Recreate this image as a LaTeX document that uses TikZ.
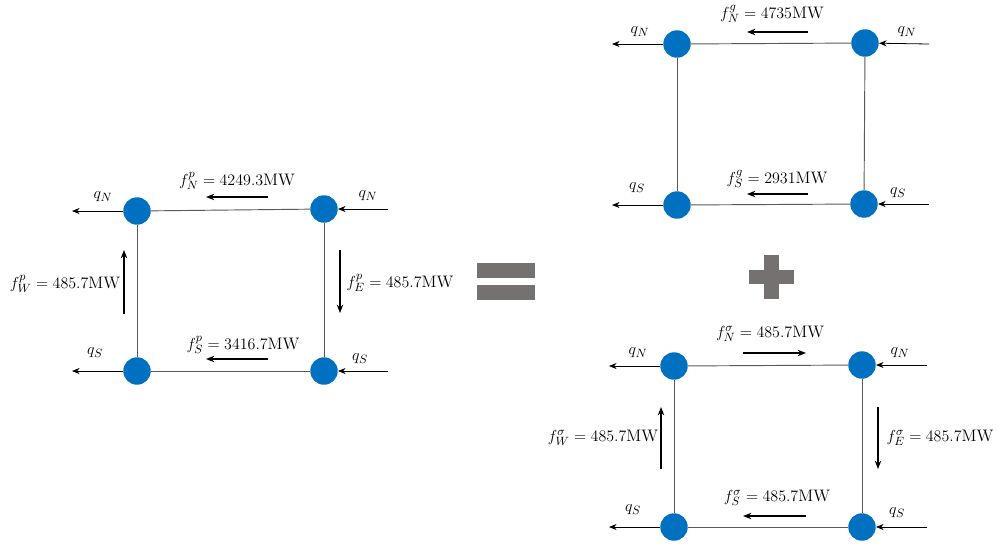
\documentclass[tikz,border=0pt]{standalone}
\usepackage{tikz}
\usetikzlibrary{arrows.meta,positioning}
\definecolor{busBlue}{HTML}{0070C0}
\definecolor{signGray}{HTML}{767171}
\definecolor{tieGray}{HTML}{595959}
\tikzset{
  bus/.style={circle, fill=busBlue, draw=none, minimum size=20.6pt, inner sep=0pt},
  tie/.style={draw=tieGray, line width=0.7pt},
  qarr/.style={-{Stealth[length=2mm, width=1.6mm]}, line width=0.6pt},
  farr/.style={-{Stealth[length=2.2mm, width=1.7mm]}, line width=0.9pt},
  flab/.style={font=\fontsize{12.5}{15}\selectfont, inner sep=1pt},
  signbar/.style={fill=signGray, draw=none},
}

\begin{document}
\begin{tikzpicture}[x=0.75pt, y=-0.75pt]
    \useasboundingbox (0,0) rectangle (998,544);
    % left: total flows
    \node[bus] (pNW) at (137,211) {};
    \node[bus] (pNE) at (324,209) {};
    \node[bus] (pSW) at (137,371) {};
    \node[bus] (pSE) at (324,371) {};
    \draw[tie] (pNW) -- (pNE);
    \draw[tie] (pNE) -- (pSE);
    \draw[tie] (pSE) -- (pSW);
    \draw[tie] (pSW) -- (pNW);
    \coordinate (pqNW) at (72,211);
    \coordinate (pqNE) at (388,209);
    \coordinate (pqSW) at (72,371);
    \coordinate (pqSE) at (388,371);
    \draw[qarr] (pNW) -- (pqNW);
    \draw[qarr] (pqNE) -- (pNE);
    \draw[qarr] (pSW) -- (pqSW);
    \draw[qarr] (pqSE) -- (pSE);
    \node[flab] (pqNWl) at (103,197) {$q_N$};
    \node[flab] (pqNEl) at (368,196) {$q_N$};
    \node[flab] (pqSWl) at (95,353) {$q_S$};
    \node[flab] (pqSEl) at (360,359) {$q_S$};
    \coordinate (pfN1) at (268,197);  \coordinate (pfN2) at (206,197);
    \coordinate (pfS1) at (268,359);  \coordinate (pfS2) at (206,359);
    \coordinate (pfW1) at (124,314);  \coordinate (pfW2) at (124,250);
    \coordinate (pfE1) at (340,250);  \coordinate (pfE2) at (340,313);
    \draw[farr] (pfN1) -- (pfN2);
    \draw[farr] (pfS1) -- (pfS2);
    \draw[farr] (pfW1) -- (pfW2);
    \draw[farr] (pfE1) -- (pfE2);
    \node[flab] (pfNl) at (237,181) {$f_N^p = 4249.3$MW};
    \node[flab] (pfSl) at (243,345) {$f_S^p = 3416.7$MW};
    \node[flab] (pfWl) at (65,284) {$f_W^p = 485.7$MW};
    \node[flab] (pfEl) at (400,283) {$f_E^p = 485.7$MW};
    % equals sign
    \fill[signbar] (477,263) rectangle (535,278);
    \fill[signbar] (477,285) rectangle (535,300);
    % plus sign
    \fill[signbar] (749,270) rectangle (794,284);
    \fill[signbar] (764,255) rectangle (779,299);
    % top right: g flows
    \node[bus] (gNW) at (677,44) {};
    \node[bus] (gNE) at (865,43) {};
    \node[bus] (gSW) at (677,205) {};
    \node[bus] (gSE) at (864,204) {};
    \draw[tie] (gNW) -- (gNE);
    \draw[tie] (gNE) -- (gSE);
    \draw[tie] (gSE) -- (gSW);
    \draw[tie] (gSW) -- (gNW);
    \coordinate (gqNW) at (612,44);
    \coordinate (gqNE) at (929,44);
    \coordinate (gqSW) at (612,205);
    \coordinate (gqSE) at (929,204);
    \draw[qarr] (gNW) -- (gqNW);
    \draw[qarr] (gqNE) -- (gNE);
    \draw[qarr] (gSW) -- (gqSW);
    \draw[qarr] (gqSE) -- (gSE);
    \node[flab] (gqNWl) at (640,32) {$q_N$};
    \node[flab] (gqNEl) at (907,32) {$q_N$};
    \node[flab] (gqSWl) at (637,188) {$q_S$};
    \node[flab] (gqSEl) at (898,193) {$q_S$};
    \coordinate (gfN1) at (808,32);   \coordinate (gfN2) at (747,32);
    \coordinate (gfS1) at (808,194);  \coordinate (gfS2) at (747,194);
    \draw[farr] (gfN1) -- (gfN2);
    \draw[farr] (gfS1) -- (gfS2);
    \node[flab] (gfNl) at (772,14) {$f_N^g = 4735$MW};
    \node[flab] (gfSl) at (777,179) {$f_S^g = 2931$MW};
    % bottom right: sigma flows
    \node[bus] (sNW) at (674,366) {};
    \node[bus] (sNE) at (862,365) {};
    \node[bus] (sSW) at (674,527) {};
    \node[bus] (sSE) at (862,527) {};
    \draw[tie] (sNW) -- (sNE);
    \draw[tie] (sNE) -- (sSE);
    \draw[tie] (sSE) -- (sSW);
    \draw[tie] (sSW) -- (sNW);
    \coordinate (sqNW) at (609,366);
    \coordinate (sqNE) at (927,365);
    \coordinate (sqSW) at (609,527);
    \coordinate (sqSE) at (927,527);
    \draw[qarr] (sNW) -- (sqNW);
    \draw[qarr] (sqNE) -- (sNE);
    \draw[qarr] (sSW) -- (sqSW);
    \draw[qarr] (sqSE) -- (sSE);
    \node[flab] (sqNWl) at (638,353) {$q_N$};
    \node[flab] (sqNEl) at (900,353) {$q_N$};
    \node[flab] (sqSWl) at (633,510) {$q_S$};
    \node[flab] (sqSEl) at (897,513) {$q_S$};
    \coordinate (sfN1) at (743,353);  \coordinate (sfN2) at (806,353);
    \coordinate (sfS1) at (806,516);  \coordinate (sfS2) at (743,516);
    \coordinate (sfW1) at (661,469);  \coordinate (sfW2) at (661,407);
    \coordinate (sfE1) at (878,407);  \coordinate (sfE2) at (878,469);
    \draw[farr] (sfN1) -- (sfN2);
    \draw[farr] (sfS1) -- (sfS2);
    \draw[farr] (sfW1) -- (sfW2);
    \draw[farr] (sfE1) -- (sfE2);
    \node[flab] (sfNl) at (770,334) {$f_N^\sigma = 485.7$MW};
    \node[flab] (sfSl) at (777,498) {$f_S^\sigma = 485.7$MW};
    \node[flab] (sfWl) at (603,438) {$f_W^\sigma = 485.7$MW};
    \node[flab] (sfEl) at (940,438) {$f_E^\sigma = 485.7$MW};
\end{tikzpicture}
\end{document}
